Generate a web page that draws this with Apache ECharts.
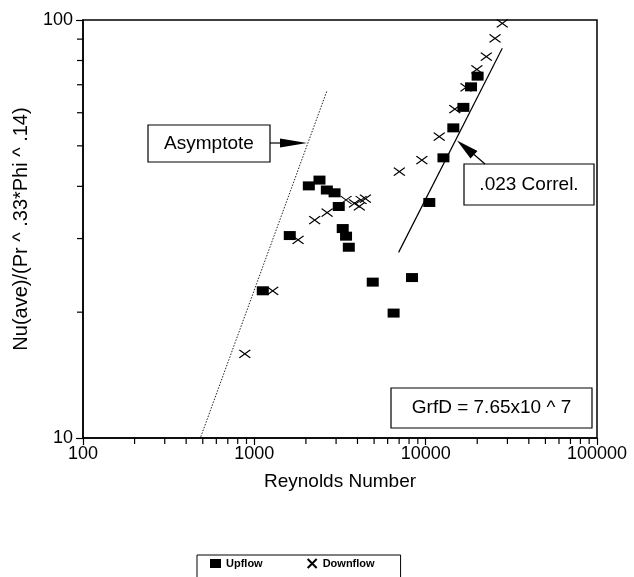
<!DOCTYPE html>
<html>
<head>
<meta charset="utf-8">
<script src="https://cdn.jsdelivr.net/npm/echarts@6/dist/echarts.min.js"></script>
<style>
  html, body { margin: 0; padding: 0; background: #fff; }
  #chart { width: 634px; height: 577px; }
</style>
</head>
<body>
<div id="chart"></div>
<script>
// Reynolds number vs Nu(ave)/(Pr^.33*Phi^.14)
const upflow = [
  [1120, 22.5], [1610, 30.5], [2080, 40.1], [2400, 41.4], [2650, 39.2],
  [2940, 38.6], [3110, 35.8], [3280, 31.7], [3430, 30.4], [3560, 28.6],
  [4910, 23.6], [6500, 19.9], [8320, 24.2], [10500, 36.6], [12700, 46.8],
  [14500, 55.2], [16600, 61.8], [18400, 69.2], [20100, 73.4]
]
const downflow = [
  [880, 15.9], [1280, 22.5], [1800, 29.8], [2250, 33.2], [2660, 34.6],
  [3430, 37.1], [3840, 36.4], [4100, 35.8], [4200, 37.1], [4450, 37.4],
  [7020, 43.4], [9500, 46.2], [12000, 52.6], [14800, 61.2], [17200, 69.0],
  [19900, 76.2], [22600, 81.7], [25400, 90.4], [28000, 98.2]
]
// reference lines (end points)
const asymptote = [[487, 10.07], [2650, 67.6]]
const correl = [[6950, 27.8], [28000, 85.6]]

// axis ticks
const xTicks = [100, 1000, 10000, 100000]
const yTicks = [10, 100]
const xMinorTicks = [200, 300, 400, 500, 600, 700, 800, 900,
  2000, 3000, 4000, 5000, 6000, 7000, 8000, 9000,
  20000, 30000, 40000, 50000, 60000, 70000, 80000, 90000]
const yMinorTicks = [20, 30, 40, 50, 60, 70, 80, 90]

const font = '"Liberation Sans", Arial, sans-serif'
const black = '#000'

let myChart = echarts.init(document.getElementById('chart'))

const minorTick = (dir) => (params, api) => {
  const p = api.coord([api.value(0), api.value(1)])
  return {
    type: 'line',
    shape: dir === 'x'
      ? { x1: p[0], y1: p[1], x2: p[0], y2: p[1] + 6 }
      : { x1: p[0], y1: p[1], x2: p[0] - 6, y2: p[1] },
    style: { stroke: black, lineWidth: 1.2 }
  }
}

let option = {
  backgroundColor: '#fff',
  animation: false,
  grid: {
    left: 83,
    right: 37,
    top: 20,
    bottom: 139,
    show: true,
    borderColor: black,
    borderWidth: 1.5
  },
  xAxis: {
    type: 'log',
    logBase: 10,
    min: xTicks[0],
    max: xTicks[xTicks.length - 1],
    name: 'Reynolds Number',
    nameLocation: 'middle',
    nameGap: 34,
    nameTextStyle: { color: black, fontSize: 19, fontFamily: font },
    axisLine: { lineStyle: { color: black, width: 1.5 } },
    axisTick: { length: 7, lineStyle: { color: black, width: 1.2 } },
    axisLabel: {
      color: black, fontSize: 18, fontFamily: font, margin: 7,
      formatter: (v) => String(Math.round(v))
    },
    splitLine: { show: false }
  },
  yAxis: {
    type: 'log',
    logBase: 10,
    min: yTicks[0],
    max: yTicks[1],
    name: 'Nu(ave)/(Pr ^ .33*Phi ^ .14)',
    nameLocation: 'middle',
    nameGap: 52,
    nameTextStyle: { color: black, fontSize: 20, fontFamily: font },
    axisLine: { lineStyle: { color: black, width: 1.5 } },
    axisTick: { length: 7, lineStyle: { color: black, width: 1.2 } },
    axisLabel: {
      color: black, fontSize: 18, fontFamily: font, margin: 10,
      formatter: (v) => String(Math.round(v))
    },
    splitLine: { show: false }
  },
  legend: {
    left: 197,
    top: 555,
    padding: [3, 26, 12, 13],
    itemGap: 44,
    itemWidth: 11,
    itemHeight: 9,
    borderColor: black,
    borderWidth: 1,
    textStyle: { color: black, fontSize: 11, fontWeight: 'bold', fontFamily: font },
    data: ['Upflow', 'Downflow']
  },
  series: [
    {
      name: 'Asymptote',
      type: 'line',
      data: asymptote,
      symbol: 'none',
      silent: true,
      lineStyle: { color: '#222', width: 1, type: [1.5, 1.5] }
    },
    {
      name: '.023 Correl.',
      type: 'line',
      data: correl,
      symbol: 'none',
      silent: true,
      lineStyle: { color: black, width: 1.2 }
    },
    {
      name: 'Upflow',
      type: 'scatter',
      data: upflow,
      symbol: 'rect',
      symbolSize: [12, 9],
      itemStyle: { color: black, opacity: 1 },
      z: 4
    },
    {
      name: 'Downflow',
      type: 'scatter',
      data: downflow,
      symbol: 'path://M0,0L10,10M10,0L0,10',
      symbolKeepAspect: false,
      symbolSize: [11, 8],
      itemStyle: { color: 'transparent', borderColor: black, borderWidth: 1.2, opacity: 1 },
      z: 4
    },
    {
      type: 'custom',
      silent: true,
      clip: false,
      data: xMinorTicks.map((v) => [v, yTicks[0]]),
      renderItem: minorTick('x')
    },
    {
      type: 'custom',
      silent: true,
      clip: false,
      data: yMinorTicks.map((v) => [xTicks[0], v]),
      renderItem: minorTick('y')
    }
  ],
  graphic: [
    // Asymptote label + arrow
    { type: 'rect', shape: { x: 148, y: 125, width: 122, height: 37 },
      style: { fill: '#fff', stroke: black, lineWidth: 1.2 }, z: 10 },
    { type: 'text', x: 209, y: 143.5, z: 11,
      style: { text: 'Asymptote', font: '19px ' + font, fill: black, align: 'center', verticalAlign: 'middle' } },
    { type: 'line', shape: { x1: 270, y1: 143, x2: 281, y2: 143 },
      style: { stroke: black, lineWidth: 1.2 }, z: 10 },
    { type: 'polygon', shape: { points: [[280, 138.5], [280, 147.5], [307, 143]] },
      style: { fill: black }, z: 10 },
    // correlation label + arrow
    { type: 'rect', shape: { x: 464, y: 164, width: 130, height: 41 },
      style: { fill: '#fff', stroke: black, lineWidth: 1.2 }, z: 10 },
    { type: 'text', x: 529, y: 184.5, z: 11,
      style: { text: '.023 Correl.', font: '19px ' + font, fill: black, align: 'center', verticalAlign: 'middle' } },
    { type: 'line', shape: { x1: 474, y1: 154.5, x2: 485, y2: 164 },
      style: { stroke: black, lineWidth: 1.2 }, z: 10 },
    { type: 'polygon', shape: { points: [[457, 140.5], [470.5, 158.5], [477.5, 151]] },
      style: { fill: black }, z: 10 },
    // Grashof box
    { type: 'rect', shape: { x: 391, y: 388, width: 201, height: 40 },
      style: { fill: '#fff', stroke: black, lineWidth: 1.2 }, z: 10 },
    { type: 'text', x: 491.5, y: 408, z: 11,
      style: { text: 'GrfD = 7.65x10 ^ 7', font: '19px ' + font, fill: black, align: 'center', verticalAlign: 'middle' } }
  ]
}

myChart.setOption(option)
</script>
</body>
</html>
